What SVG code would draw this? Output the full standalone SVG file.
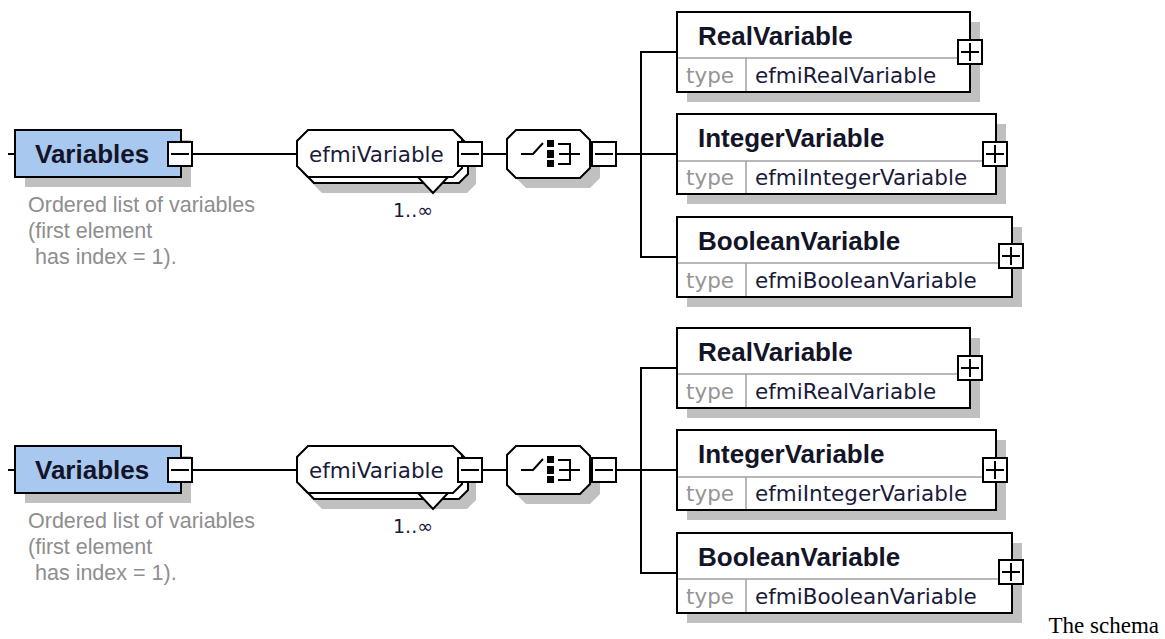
<svg xmlns="http://www.w3.org/2000/svg" xmlns:xlink="http://www.w3.org/1999/xlink" width="1165" height="639" viewBox="0 0 1165 639">
<style>
.shadow{fill:#c0c0c0;stroke:none}
.elem{fill:#fff;stroke:#000;stroke-width:2}
.glob{fill:#a8c8f0;stroke:#000;stroke-width:2}
.oct{fill:#fff;stroke:#000;stroke-width:2}
.line{stroke:#000;stroke-width:2;fill:none}
.div{stroke:#a0a0a0;stroke-width:1.5;fill:none}
.name{font-family:"Liberation Sans",Arial,sans-serif;font-weight:bold;font-size:26px;fill:#141428}
.reg{font-family:"DejaVu Sans",Verdana,sans-serif;font-size:21.5px;fill:#1a1a3a}
.type{font-family:"DejaVu Sans",Verdana,sans-serif;font-size:21.5px;fill:#959595}
.desc{font-family:"Liberation Sans",Arial,sans-serif;font-size:21.5px;fill:#8e8e8e}
.card{font-family:"DejaVu Sans",Verdana,sans-serif;font-size:19px;fill:#1a1a3a}
.body{font-family:"Liberation Serif","Times New Roman",serif;font-size:23px;fill:#000}
</style>
<defs>
<g id="minus"><rect x="0" y="0" width="24" height="24" fill="#fff" stroke="#000" stroke-width="2"/><line x1="3" y1="12" x2="21" y2="12" stroke="#000" stroke-width="2"/></g>
<g id="plus"><rect x="0" y="0" width="24" height="24" fill="#fff" stroke="#000" stroke-width="2"/><line x1="3" y1="12" x2="21" y2="12" stroke="#000" stroke-width="2"/><line x1="12" y1="3" x2="12" y2="21" stroke="#000" stroke-width="2"/></g>
</defs>
<rect x="0" y="0" width="1165" height="639" fill="#fff"/>

<g id="diagram1">
<g id="connectors1">
<line class="line" x1="8" y1="154" x2="15" y2="154"/>
<line class="line" x1="192" y1="154" x2="297" y2="154"/>
<line class="line" x1="482" y1="154" x2="507" y2="154"/>
<line class="line" x1="616" y1="154" x2="677" y2="154"/>
<polyline class="line" points="677,52 641,52 641,257 677,257"/>
</g>
<g id="variables1">
<rect class="shadow" x="25" y="140" width="166" height="47"/>
<rect class="glob" x="15" y="130" width="166" height="47"/>
<text class="name" x="35" y="163">Variables</text>
<use xlink:href="#minus" x="168" y="142"/>
<text class="desc" x="28" y="212">Ordered list of variables</text>
<text class="desc" x="28" y="238">(first element</text>
<text class="desc" x="35" y="264">has index = 1).</text>
</g>
<g id="efmiVariable1">
<polygon class="shadow" points="322,146 467,146 476,155 476,184 467,193 322,193 311,182 311,157"/>
<polygon class="oct" points="314,136 459,136 468,145 468,174 459,183 314,183 303,172 303,147"/>
<polygon fill="#fff" points="418,177 433,193 448,177"/>
<polyline class="line" points="418,177 433,193 448,177"/>
<polygon class="oct" points="308,130 453,130 462,139 462,168 453,177 308,177 297,166 297,141"/>
<text class="reg" x="309" y="162">efmiVariable</text>
<use xlink:href="#minus" x="458" y="142"/>
<text class="card" x="393" y="217">1..∞</text>
</g>
<g id="sequence1">
<polygon class="shadow" points="526,140 590,140 600,150 600,178 590,188 526,188 517,179 517,149"/>
<polygon class="oct" points="516,130 580,130 590,140 590,168 580,178 516,178 507,169 507,139"/>
<polyline class="line" points="521,154 533,154 543,143"/>
<rect x="547" y="140" width="7" height="7" fill="#000"/>
<rect x="547" y="150" width="7" height="8" fill="#000"/>
<rect x="547" y="160" width="7" height="7" fill="#000"/>
<polyline class="line" points="558,144 570,144 570,164 558,164"/>
<line class="line" x1="559" y1="154" x2="580" y2="154"/>
<use xlink:href="#minus" x="592" y="142"/>
</g>
<g id="realVariable1">
<rect class="shadow" x="687" y="22" width="293" height="80"/>
<rect class="elem" x="677" y="12" width="293" height="80"/>
<line class="div" x1="678" y1="58" x2="969" y2="58"/>
<line class="div" x1="746" y1="58" x2="746" y2="91"/>
<text class="name" x="698" y="45">RealVariable</text>
<text class="type" x="686" y="83">type</text>
<text class="reg" x="755" y="83">efmiRealVariable</text>
<use xlink:href="#plus" x="958" y="40"/>
</g>
<g id="integerVariable1">
<rect class="shadow" x="687" y="124" width="319" height="80"/>
<rect class="elem" x="677" y="114" width="319" height="80"/>
<line class="div" x1="678" y1="161" x2="995" y2="161"/>
<line class="div" x1="746" y1="161" x2="746" y2="193"/>
<text class="name" x="698" y="147">IntegerVariable</text>
<text class="type" x="686" y="185">type</text>
<text class="reg" x="755" y="185">efmiIntegerVariable</text>
<use xlink:href="#plus" x="983" y="142"/>
</g>
<g id="booleanVariable1">
<rect class="shadow" x="687" y="227" width="335" height="80"/>
<rect class="elem" x="677" y="217" width="335" height="80"/>
<line class="div" x1="678" y1="263" x2="1011" y2="263"/>
<line class="div" x1="746" y1="263" x2="746" y2="296"/>
<text class="name" x="698" y="250">BooleanVariable</text>
<text class="type" x="686" y="288">type</text>
<text class="reg" x="755" y="288">efmiBooleanVariable</text>
<use xlink:href="#plus" x="999" y="244"/>
</g>
</g>

<g id="diagram2" transform="translate(0,316)">
<g id="connectors2">
<line class="line" x1="8" y1="154" x2="15" y2="154"/>
<line class="line" x1="192" y1="154" x2="297" y2="154"/>
<line class="line" x1="482" y1="154" x2="507" y2="154"/>
<line class="line" x1="616" y1="154" x2="677" y2="154"/>
<polyline class="line" points="677,52 641,52 641,257 677,257"/>
</g>
<g id="variables2">
<rect class="shadow" x="25" y="140" width="166" height="47"/>
<rect class="glob" x="15" y="130" width="166" height="47"/>
<text class="name" x="35" y="163">Variables</text>
<use xlink:href="#minus" x="168" y="142"/>
<text class="desc" x="28" y="212">Ordered list of variables</text>
<text class="desc" x="28" y="238">(first element</text>
<text class="desc" x="35" y="264">has index = 1).</text>
</g>
<g id="efmiVariable2">
<polygon class="shadow" points="322,146 467,146 476,155 476,184 467,193 322,193 311,182 311,157"/>
<polygon class="oct" points="314,136 459,136 468,145 468,174 459,183 314,183 303,172 303,147"/>
<polygon fill="#fff" points="418,177 433,193 448,177"/>
<polyline class="line" points="418,177 433,193 448,177"/>
<polygon class="oct" points="308,130 453,130 462,139 462,168 453,177 308,177 297,166 297,141"/>
<text class="reg" x="309" y="162">efmiVariable</text>
<use xlink:href="#minus" x="458" y="142"/>
<text class="card" x="393" y="217">1..∞</text>
</g>
<g id="sequence2">
<polygon class="shadow" points="526,140 590,140 600,150 600,178 590,188 526,188 517,179 517,149"/>
<polygon class="oct" points="516,130 580,130 590,140 590,168 580,178 516,178 507,169 507,139"/>
<polyline class="line" points="521,154 533,154 543,143"/>
<rect x="547" y="140" width="7" height="7" fill="#000"/>
<rect x="547" y="150" width="7" height="8" fill="#000"/>
<rect x="547" y="160" width="7" height="7" fill="#000"/>
<polyline class="line" points="558,144 570,144 570,164 558,164"/>
<line class="line" x1="559" y1="154" x2="580" y2="154"/>
<use xlink:href="#minus" x="592" y="142"/>
</g>
<g id="realVariable2">
<rect class="shadow" x="687" y="22" width="293" height="80"/>
<rect class="elem" x="677" y="12" width="293" height="80"/>
<line class="div" x1="678" y1="58" x2="969" y2="58"/>
<line class="div" x1="746" y1="58" x2="746" y2="91"/>
<text class="name" x="698" y="45">RealVariable</text>
<text class="type" x="686" y="83">type</text>
<text class="reg" x="755" y="83">efmiRealVariable</text>
<use xlink:href="#plus" x="958" y="40"/>
</g>
<g id="integerVariable2">
<rect class="shadow" x="687" y="124" width="319" height="80"/>
<rect class="elem" x="677" y="114" width="319" height="80"/>
<line class="div" x1="678" y1="161" x2="995" y2="161"/>
<line class="div" x1="746" y1="161" x2="746" y2="193"/>
<text class="name" x="698" y="147">IntegerVariable</text>
<text class="type" x="686" y="185">type</text>
<text class="reg" x="755" y="185">efmiIntegerVariable</text>
<use xlink:href="#plus" x="983" y="142"/>
</g>
<g id="booleanVariable2">
<rect class="shadow" x="687" y="227" width="335" height="80"/>
<rect class="elem" x="677" y="217" width="335" height="80"/>
<line class="div" x1="678" y1="263" x2="1011" y2="263"/>
<line class="div" x1="746" y1="263" x2="746" y2="296"/>
<text class="name" x="698" y="250">BooleanVariable</text>
<text class="type" x="686" y="288">type</text>
<text class="reg" x="755" y="288">efmiBooleanVariable</text>
<use xlink:href="#plus" x="999" y="244"/>
</g>
</g>

<text class="body" x="1159" y="633" text-anchor="end">The schema</text>
</svg>
